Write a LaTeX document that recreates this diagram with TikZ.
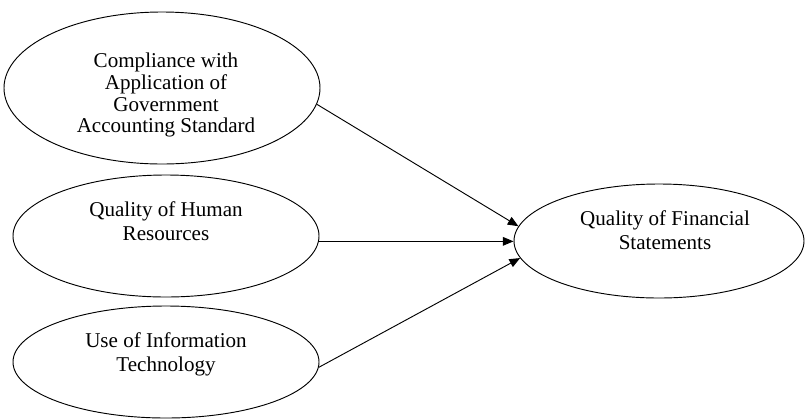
\documentclass[tikz,border=0pt]{standalone}
\usepackage{fontspec}
\setmainfont{Liberation Serif}
\usetikzlibrary{shapes.geometric,arrows.meta}

\begin{document}
\begin{tikzpicture}
  [x=0.75pt,y=-0.75pt,line width=0.7pt,
   var/.style={ellipse,draw,inner sep=0pt},
   txt/.style={align=center,inner sep=0pt,anchor=north,font=\fontsize{15.8}{18}\selectfont},
   >={Triangle[length=8pt,width=6.5pt]}]
  \useasboundingbox (0,0) rectangle (806,419);

  % variables
  \node (cga) [var,minimum width=237pt,minimum height=114pt] at (162,88) {};
  \node (qhr) [var,minimum width=229.5pt,minimum height=91.5pt] at (166,236) {};
  \node (uit) [var,minimum width=229.5pt,minimum height=84pt] at (166,362) {};
  \node (qfs) [var,minimum width=217.5pt,minimum height=85.5pt] at (659,241) {};

  % labels
  \node (cgalabel) [txt,font=\fontsize{15.8}{16.3}\selectfont] at (166,52.5) {Compliance with\\Application of\\Government\\Accounting Standard};
  \node (qhrlabel) [txt] at (166,201.5) {Quality of Human\\Resources};
  \node (uitlabel) [txt] at (166,332) {Use of Information\\Technology};
  \node (qfslabel) [txt] at (665,210.5) {Quality of Financial\\Statements};

  \draw[->] (cga.-6) -- (qfs.174);
  \draw[->] (qhr.-2) -- (qhr.-2 -| qfs.west);
  \draw[->] (uit.-2) -- (qfs.187);
\end{tikzpicture}
\end{document}
